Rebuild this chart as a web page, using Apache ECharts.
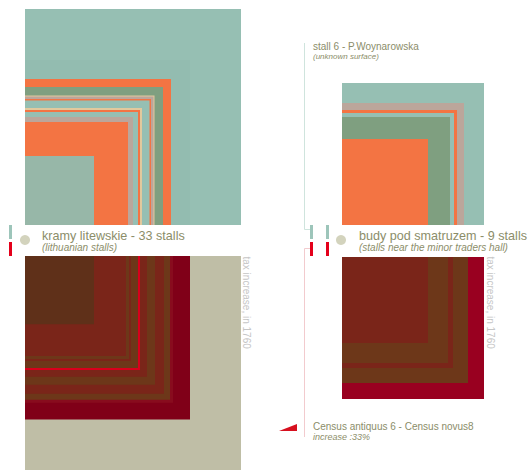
<!DOCTYPE html>
<html><head><meta charset="utf-8">
<script src="https://cdn.jsdelivr.net/npm/echarts@6/dist/echarts.min.js"></script>
<style>html,body{margin:0;padding:0;background:#fff}#c{width:528px;height:470px}</style>
</head><body><div id="c"></div>
<script>
// ---- DATA ----
// side of each nested square (same unit for all panels); kind = category of the stall
const kramySurface      = [216, 165, 146, 138, 129.5, 128.5, 126, 124.5, 117, 115, 113, 108, 103, 69];
const kramySurfaceKind  = ['all','all2','wood','brick','mixed','shed','wood','all','mixed','wood','all','shed','wood','unknown'];
const kramyTax          = [216, 165, 148, 145, 139, 130, 122, 115, 113, 106, 104, 101, 69];
const kramyTaxKind      = ['none','base','base2','novus','antiquus','novus','antiquus','peak','novus','antiquus','novus','antiquus','min'];
const budySurface       = [142, 122, 115, 112, 108, 86];
const budySurfaceKind   = ['all','shed','wood','all','brick','wood'];
const budyTax           = [142, 126, 111, 106, 86];
const budyTaxKind       = ['base3','novus','antiquus','novus','antiquus'];

const labels = {
  kramy: 'kramy litewskie - 33 stalls', kramySub: '(lithuanian stalls)',
  budy: 'budy pod smatruzem - 9 stalls', budySub: '(stalls near the minor traders hall)',
  stall: 'stall 6 - P.Woynarowska', stallSub: '(unknown surface)',
  census: 'Census antiquus 6 - Census novus8', censusSub: 'increase :33%',
  tax: 'tax increase, in 1760'
};

// ---- STYLE ----
const colorOf = {
  all:'#96bfb3', all2:'#93bcb0', wood:'#f37443', brick:'#7f9f80', mixed:'#e2c99d', shed:'#bba69b', unknown:'#97b7a8',
  none:'#bfbea6', base:'#800018', base2:'#880c1e', base3:'#990020', novus:'#6d3719', antiquus:'#7a2519', peak:'#d8001c', min:'#5f3019'
};
const FONT = '"Liberation Sans", Arial, sans-serif';
const TXT = '#8b8d69';

function squares(vals, kinds, idx) {
  return {
    type: 'custom', coordinateSystem: 'cartesian2d', xAxisIndex: idx, yAxisIndex: idx,
    silent: true, clip: false,
    data: vals.map((v, i) => ({ value: [v, v], itemStyle: { color: colorOf[kinds[i]] } })),
    renderItem: function (params, api) {
      const s = api.value(0);
      const p0 = api.coord([0, 0]);
      const p1 = api.coord([s, s]);
      return {
        type: 'rect',
        shape: { x: Math.min(p0[0], p1[0]), y: Math.min(p0[1], p1[1]),
                 width: Math.abs(p1[0] - p0[0]), height: Math.abs(p1[1] - p0[1]) },
        style: { fill: api.visual('color') }
      };
    }
  };
}

function txt(x, y, text, size, opts) {
  opts = opts || {};
  return { type: 'text', x: x, y: y, rotation: opts.rot || 0, silent: true,
    style: { text: text, font: (opts.italic ? 'italic ' : '') + size + 'px ' + FONT,
             fill: opts.color || TXT, align: 'left', verticalAlign: 'middle' } };
}

const chart = echarts.init(document.getElementById('c'), null, { renderer: 'svg' });
const ax = (max, inv) => ({ type: 'value', min: 0, max: max, show: false, inverse: !!inv });
chart.setOption({
  animation: false,
  grid: [
    { left: 25, top: 9, width: 216, height: 216 },
    { left: 25, top: 256, width: 216, height: 216 },
    { left: 342, top: 83, width: 142, height: 142 },
    { left: 342, top: 257, width: 142, height: 142 }
  ],
  xAxis: [Object.assign(ax(216), {gridIndex:0}), Object.assign(ax(216), {gridIndex:1}),
          Object.assign(ax(142), {gridIndex:2}), Object.assign(ax(142), {gridIndex:3})],
  yAxis: [Object.assign(ax(216), {gridIndex:0}), Object.assign(ax(216, true), {gridIndex:1}),
          Object.assign(ax(142), {gridIndex:2}), Object.assign(ax(142, true), {gridIndex:3})],
  series: [
    squares(kramySurface, kramySurfaceKind, 0),
    squares(kramyTax, kramyTaxKind, 1),
    squares(budySurface, budySurfaceKind, 2),
    squares(budyTax, budyTaxKind, 3)
  ],
  graphic: [
    // connector lines
    { type: 'polyline', silent: true, shape: { points: [[304.5, 43], [304.5, 229.5], [311, 229.5]] }, style: { stroke: '#cfe4dd', lineWidth: 1, fill: null } },
    { type: 'polyline', silent: true, shape: { points: [[311, 248.5], [304.5, 248.5], [304.5, 437]] }, style: { stroke: '#f2cbce', lineWidth: 1, fill: null } },
    // markers
    { type: 'rect', silent: true, shape: { x: 9, y: 225, width: 3, height: 14 }, style: { fill: '#9dc5ba' } },
    { type: 'rect', silent: true, shape: { x: 9, y: 242, width: 3, height: 14 }, style: { fill: '#e4001b' } },
    { type: 'rect', silent: true, shape: { x: 310, y: 225, width: 3, height: 14 }, style: { fill: '#9dc5ba' } },
    { type: 'rect', silent: true, shape: { x: 310, y: 242, width: 3, height: 14 }, style: { fill: '#e4001b' } },
    { type: 'rect', silent: true, shape: { x: 326, y: 225, width: 3, height: 14 }, style: { fill: '#9dc5ba' } },
    { type: 'rect', silent: true, shape: { x: 326, y: 242, width: 3, height: 14 }, style: { fill: '#e4001b' } },
    { type: 'circle', silent: true, shape: { cx: 25, cy: 240, r: 5 }, style: { fill: '#d3d3bd' } },
    { type: 'circle', silent: true, shape: { cx: 341, cy: 240, r: 5 }, style: { fill: '#d3d3bd' } },
    { type: 'polygon', silent: true, shape: { points: [[279, 431], [297, 424], [297, 431]] }, style: { fill: '#d7101f' } },
    // texts
    txt(42, 235.5, labels.kramy, 12.6),
    txt(42, 247.5, labels.kramySub, 10, { italic: true }),
    txt(359, 235.5, labels.budy, 12.6),
    txt(359, 247.5, labels.budySub, 10, { italic: true }),
    txt(313, 46.5, labels.stall, 10),
    txt(313, 56.5, labels.stallSub, 8, { italic: true }),
    txt(313, 426.5, labels.census, 10),
    txt(313, 436.8, labels.censusSub, 9, { italic: true }),
    txt(246.5, 256.5, labels.tax, 10, { rot: -Math.PI / 2, color: '#c6c6c6' }),
    txt(490.5, 256.5, labels.tax, 10, { rot: -Math.PI / 2, color: '#c6c6c6' })
  ]
});
</script></body></html>
